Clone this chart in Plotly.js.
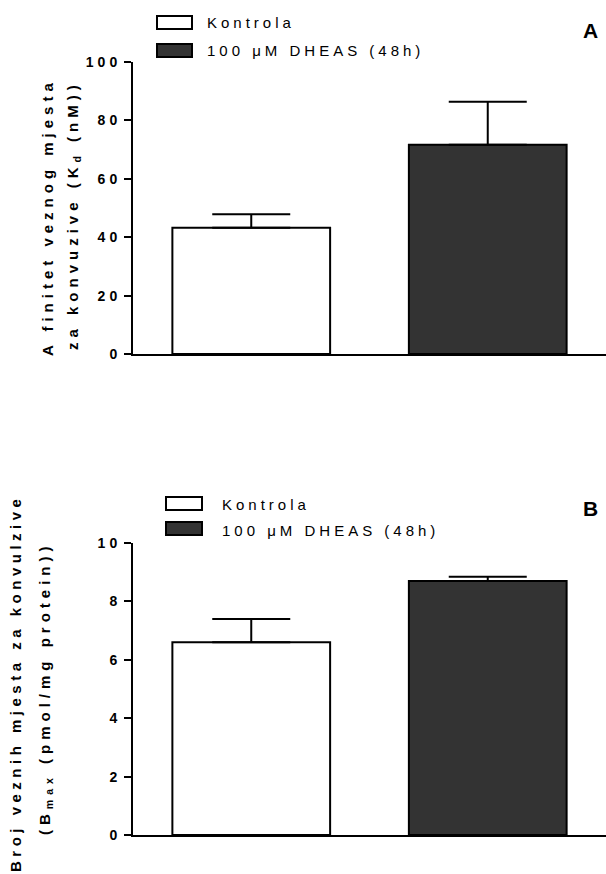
<!DOCTYPE html>
<html>
<head>
<meta charset="utf-8">
<script src="https://cdn.plot.ly/plotly-3.0.1.min.js"></script>
<style>
  html, body { margin: 0; padding: 0; background: #fff; }
  #chart { width: 606px; height: 874px; }
  text { letter-spacing: 4px; }
</style>
</head>
<body>
<div id="chart"></div>
<script>
// ---- data ----
const categories = ['Kontrola', '100 μM DHEAS (48h)'];
const kdMean = [43.2, 71.7];
const kdErr = [4.7, 14.7];
const bmaxMean = [6.6, 8.7];
const bmaxErr = [0.8, 0.14];
const kdTicks = [0, 20, 40, 60, 80, 100];
const bmaxTicks = [0, 2, 4, 6, 8, 10];
const barColors = ['#ffffff', '#333333'];

// ---- helpers ----
const W = 606, H = 874;
const px = v => v / W;
const py = v => 1 - v / H;
const FONT = 'Liberation Sans, Arial, Helvetica, sans-serif';
const spaced = (s, n) => '<span style="letter-spacing:' + n + 'px">' + s + '</span>';

function barTrace(vals, errs, xa, ya) {
  return {
    type: 'bar', x: categories, y: vals, xaxis: xa, yaxis: ya,
    width: 0.667, showlegend: false,
    marker: { color: barColors, line: { color: '#000', width: 2 } },
    error_y: { type: 'data', symmetric: false, array: errs, arrayminus: [0, 0],
               color: '#000', thickness: 2, width: 39 },
    hoverinfo: 'skip'
  };
}

const data = [
  barTrace(kdMean, kdErr, 'x', 'y'),
  barTrace(bmaxMean, bmaxErr, 'x2', 'y2')
];

const xCommon = {
  type: 'category', range: [-0.5, 1.5], showticklabels: false, ticks: '',
  showline: true, linecolor: '#000', linewidth: 2, showgrid: false, zeroline: false,
  domain: [px(133), 1], fixedrange: true
};
const yCommon = {
  showline: true, linecolor: '#000', linewidth: 2, showgrid: false, zeroline: false,
  ticks: 'outside', ticklen: 7, tickwidth: 2, tickcolor: '#000',
  tickfont: { family: FONT, size: 14, weight: 'bold', color: '#000' },
  fixedrange: true
};

const titleFont = { family: FONT, size: 15, weight: 'bold', color: '#000' };
const legFont = { family: FONT, size: 15, color: '#000' };

const layout = {
  width: W, height: H,
  margin: { l: 0, r: 0, t: 0, b: 0, pad: 0 },
  paper_bgcolor: '#fff', plot_bgcolor: '#fff',
  showlegend: false,
  bargap: 0.333,
  xaxis: Object.assign({}, xCommon, { anchor: 'y' }),
  xaxis2: Object.assign({}, xCommon, { anchor: 'y2' }),
  yaxis: Object.assign({}, yCommon, {
    anchor: 'x', domain: [py(354), py(62)], range: [0, 100],
    tickvals: kdTicks, ticktext: kdTicks.map(String)
  }),
  yaxis2: Object.assign({}, yCommon, {
    anchor: 'x2', domain: [py(835), py(543)], range: [0, 10],
    tickvals: bmaxTicks, ticktext: bmaxTicks.map(String)
  }),
  shapes: [
    // legend swatches panel A
    { type: 'rect', xref: 'paper', yref: 'paper', x0: px(157), x1: px(192), y0: py(29), y1: py(16),
      fillcolor: barColors[0], line: { color: '#000', width: 2 } },
    { type: 'rect', xref: 'paper', yref: 'paper', x0: px(157), x1: px(192), y0: py(57), y1: py(44),
      fillcolor: barColors[1], line: { color: '#000', width: 2 } },
    // legend swatches panel B
    { type: 'rect', xref: 'paper', yref: 'paper', x0: px(166), x1: px(202), y0: py(510), y1: py(497),
      fillcolor: barColors[0], line: { color: '#000', width: 2 } },
    { type: 'rect', xref: 'paper', yref: 'paper', x0: px(166), x1: px(202), y0: py(535), y1: py(522),
      fillcolor: barColors[1], line: { color: '#000', width: 2 } }
  ],
  annotations: [
    // legend texts A
    { xref: 'paper', yref: 'paper', x: px(205), y: py(22), xanchor: 'left', yanchor: 'middle',
      text: categories[0], showarrow: false, font: legFont },
    { xref: 'paper', yref: 'paper', x: px(205), y: py(51), xanchor: 'left', yanchor: 'middle',
      text: categories[1], showarrow: false, font: legFont },
    // legend texts B
    { xref: 'paper', yref: 'paper', x: px(220), y: py(504), xanchor: 'left', yanchor: 'middle',
      text: categories[0], showarrow: false, font: legFont },
    { xref: 'paper', yref: 'paper', x: px(220), y: py(530), xanchor: 'left', yanchor: 'middle',
      text: categories[1], showarrow: false, font: legFont },
    // panel letters
    { xref: 'paper', yref: 'paper', x: px(592), y: py(30), xanchor: 'center', yanchor: 'middle',
      text: 'A', showarrow: false, font: { family: FONT, size: 21, weight: 'bold', color: '#000' } },
    { xref: 'paper', yref: 'paper', x: px(592), y: py(508), xanchor: 'center', yanchor: 'middle',
      text: 'B', showarrow: false, font: { family: FONT, size: 21, weight: 'bold', color: '#000' } },
    // y-axis titles panel A
    { xref: 'paper', yref: 'paper', x: px(47), y: py(217), xanchor: 'center', yanchor: 'middle', textangle: -90,
      text: spaced('A finitet veznog mjesta', 5), showarrow: false, font: titleFont },
    { xref: 'paper', yref: 'paper', x: px(73), y: py(215), xanchor: 'center', yanchor: 'middle', textangle: -90,
      text: spaced('za konvuzive (K<sub>d</sub> (nM))', 5), showarrow: false, font: titleFont },
    // y-axis titles panel B
    { xref: 'paper', yref: 'paper', x: px(15), y: py(684), xanchor: 'center', yanchor: 'middle', textangle: -90,
      text: spaced('Broj veznih mjesta za konvulzive', 4.5), showarrow: false, font: titleFont },
    { xref: 'paper', yref: 'paper', x: px(45), y: py(688), xanchor: 'center', yanchor: 'middle', textangle: -90,
      text: spaced('(B<sub>max</sub> (pmol/mg protein))', 5), showarrow: false, font: titleFont }
  ]
};

Plotly.newPlot('chart', data, layout, { staticPlot: true, displayModeBar: false });
</script>
</body>
</html>
